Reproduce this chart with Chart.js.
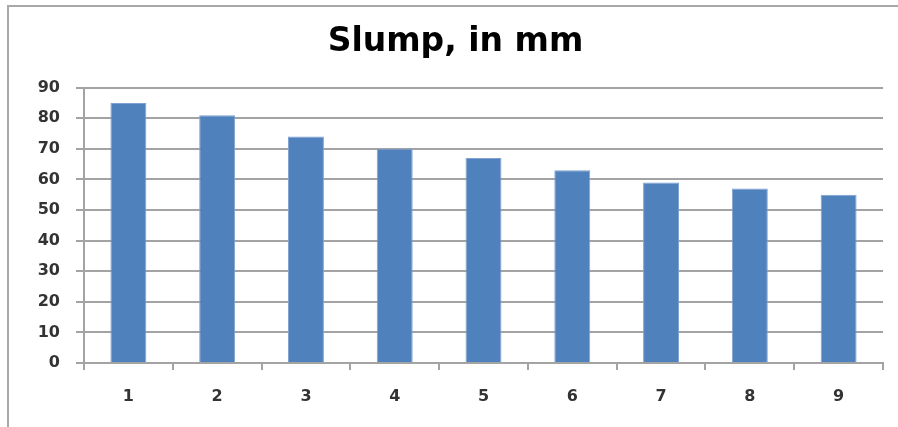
<!DOCTYPE html>
<html>
<head>
<meta charset="utf-8">
<script src="https://cdn.jsdelivr.net/npm/chart.js@4/dist/chart.umd.min.js"></script>
<style>
    html, body { margin: 0; padding: 0; background: #fff; }
    #wrap { position: relative; width: 898px; height: 427px; overflow: hidden; }
    #frame {
        position: absolute; left: 7px; top: 5px; width: 900px; height: 430px;
        border-left: 2px solid #a9a9a9; border-top: 2px solid #a9a9a9;
        pointer-events: none;
    }
</style>
</head>
<body>
<div id="wrap">
    <canvas id="slumpChart" width="898" height="427"></canvas>
    <div id="frame"></div>
</div>
<script>
// ---------------- DATA ----------------
const mixes = ["1", "2", "3", "4", "5", "6", "7", "8", "9"];
const slumpMm = [85, 81, 74, 70, 67, 63, 59, 57, 55];
const yTicks = [0, 10, 20, 30, 40, 50, 60, 70, 80, 90];

const gridGray = "#a3a3a3";
const labelFont = { family: "DejaVu Sans", size: 16, weight: "bold" };

// ---------------- SLUMP BAR CHART ----------------
new Chart(
    document.getElementById("slumpChart"),
    {
        type: "bar",

        data: {
            labels: mixes,
            datasets: [{
                label: "Slump",
                data: slumpMm,
                backgroundColor: "#4f81bd",
                borderColor: "#7ea1cf",
                borderWidth: 1,
                categoryPercentage: 1,
                barPercentage: 0.405
            }]
        },

        options: {
            responsive: false,
            animation: false,
            // left padding keeps the title centred a little right of the canvas middle
            layout: { padding: { top: 0, right: 15, bottom: 0, left: 28 } },

            plugins: {
                legend: { display: false },
                tooltip: { enabled: false },
                title: {
                    display: true,
                    text: "Slump, in mm",
                    color: "#000",
                    font: { family: "DejaVu Sans", size: 33, weight: "bold" },
                    padding: { top: 23, bottom: 25 }
                }
            },

            scales: {
                x: {
                    grid: {
                        offset: true,
                        drawOnChartArea: false,
                        drawTicks: true,
                        tickLength: 7,
                        color: gridGray,
                        lineWidth: 2
                    },
                    border: { color: gridGray, width: 2 },
                    ticks: {
                        color: "#333",
                        font: labelFont,
                        padding: 17,
                        maxRotation: 0
                    },
                    afterFit: scale => { scale.height = 64; }
                },
                y: {
                    min: 0,
                    max: 90,
                    afterBuildTicks: scale => {
                        scale.ticks = yTicks.map(v => ({ value: v }));
                    },
                    grid: {
                        color: gridGray,
                        lineWidth: 2,
                        tickLength: 8
                    },
                    border: { color: gridGray, width: 2 },
                    ticks: {
                        color: "#333",
                        font: labelFont,
                        padding: 16
                    },
                    afterFit: scale => { scale.width = 56; }
                }
            }
        }
    }
);
</script>
</body>
</html>
